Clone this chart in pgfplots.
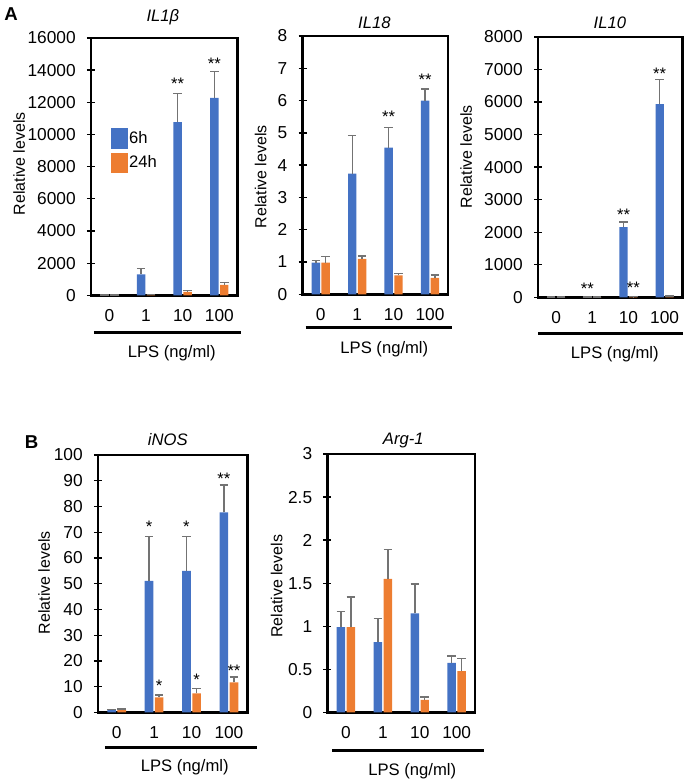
\documentclass[border=0pt]{standalone}
\usepackage{fontspec}
\setmainfont{Liberation Sans}
\usepackage{pgfplots}
\pgfplotsset{compat=1.18}

\definecolor{c6}{HTML}{4472C4}
\definecolor{c24}{HTML}{ED7D31}
\definecolor{errgray}{RGB}{115,115,115}
\newcommand\fs{\fontsize{12.5}{14}\selectfont}
\newcommand\tfs{\fontsize{13}{15}\selectfont}

\tikzset{st/.style={font=\fs, inner sep=0pt, anchor=center, yshift=-2.75pt}}

\pgfplotsset{
  panel/.style={
    anchor=north west, scale only axis,
    ybar, bar width=0.23,
    xmin=-0.5, xmax=3.5, xtick={0,1,2,3}, xticklabels={0,1,10,100},
    ymin=0,
    axis line style={line width=1.9pt},
    ytick pos=left,
    tick align=center,
    major tick length=6pt,
    x tick style={draw=none},
    y tick style={line width=1pt, black},
    tick label style={font=\tfs},
    yticklabel style={/pgf/number format/assume math mode=true, /pgf/number format/1000 sep={}},
    xticklabel style={/pgf/number format/assume math mode=true},
    xticklabel shift=4pt,
    yticklabel shift=5pt,
    scaled y ticks=false,
    clip=false,
  },
  eb/.style={error bars/.cd, y dir=plus, y explicit,
    error bar style={line width=1.1pt, errgray},
    error mark options={rotate=90, mark size=3.2pt, line width=1.1pt, errgray}},
  b6/.style={fill=c6, draw=none, bar shift=-0.135, eb},
  b24/.style={fill=c24, draw=none, bar shift=0.135, eb},
}

\begin{document}
\begin{tikzpicture}
\begin{scope}[x=0.75pt, y=-0.75pt]
\useasboundingbox (0,0) rectangle (685,783);
\end{scope}

% ---------- A: IL1b
\begin{axis}[panel, at={(66pt,-28.5pt)}, width=110.25pt, height=193.5pt,
  ymax=16000, ytick distance=2000,
  legend style={at={(0.136,0.651)}, anchor=north west, draw=none, fill=none,
    inner sep=0pt, font=\fs, row sep=3pt,
    nodes={inner sep=1pt}},
  legend cell align=left]
\addlegendimage{legend image code/.code={\fill[c6] (0pt,-7.5pt) rectangle (12pt,7.5pt);}}
\addlegendentry{6h}
\addlegendimage{legend image code/.code={\fill[c24] (0pt,-7.5pt) rectangle (12pt,7.5pt);}}
\addlegendentry{24h}
\addplot[b6] coordinates {(0,15) +- (0,5) (1,1300) +- (0,380) (2,10770) +- (0,1780) (3,12280) +- (0,1620)};
\addplot[b24] coordinates {(0,10) +- (0,5) (1,50) +- (0,20) (2,210) +- (0,90) (3,650) +- (0,150)};
\node[st] at (axis cs:1.865,13395) {**};
\node[st] at (axis cs:2.865,14636) {**};
\end{axis}

% ---------- A: IL18
\begin{axis}[panel, at={(225pt,-27pt)}, width=109.5pt, height=194.25pt,
  ymax=8, ytick distance=1]
\addplot[b6] coordinates {(0,0.98) +- (0,0.07) (1,3.74) +- (0,1.17) (2,4.54) +- (0,0.63) (3,6.0) +- (0,0.36)};
\addplot[b24] coordinates {(0,0.98) +- (0,0.19) (1,1.10) +- (0,0.09) (2,0.59) +- (0,0.06) (3,0.51) +- (0,0.09)};
\node[st] at (axis cs:1.865,5.62) {**};
\node[st] at (axis cs:2.865,6.76) {**};
\end{axis}

% ---------- A: IL10
\begin{axis}[panel, at={(402pt,-27.75pt)}, width=108.75pt, height=195.75pt,
  ymax=8000, ytick distance=1000]
\addplot[b6] coordinates {(0,5) +- (0,2) (1,12) +- (0,4) (2,2155) +- (0,165) (3,5935) +- (0,755)};
\addplot[b24] coordinates {(0,4) +- (0,2) (1,10) +- (0,3) (2,20) +- (0,5) (3,35) +- (0,8)};
\node[st] at (axis cs:0.865,368) {**};
\node[st] at (axis cs:1.865,2636) {**};
\node[st] at (axis cs:2.135,398) {**};
\node[st] at (axis cs:2.865,6988) {**};
\end{axis}

% ---------- B: iNOS
\begin{axis}[panel, at={(71.25pt,-342pt)}, width=112.5pt, height=193.5pt,
  ymax=100, ytick distance=10]
\addplot[b6] coordinates {(0,1.0) +- (0,0.2) (1,51.1) +- (0,17.2) (2,55.0) +- (0,13.3) (3,77.7) +- (0,10.6)};
\addplot[b24] coordinates {(0,1.0) +- (0,0.3) (1,5.9) +- (0,0.8) (2,7.4) +- (0,1.8) (3,11.7) +- (0,2.1)};
\node[st] at (axis cs:0.865,73.6) {*};
\node[st] at (axis cs:1.135,11.6) {*};
\node[st] at (axis cs:1.865,73.6) {*};
\node[st] at (axis cs:2.135,14.3) {*};
\node[st] at (axis cs:2.865,92.2) {**};
\node[st] at (axis cs:3.135,17.8) {**};
\end{axis}

% ---------- B: Arg-1
\begin{axis}[panel, at={(243.75pt,-341.25pt)}, width=111pt, height=194.25pt,
  ymax=3, ytick distance=0.5]
\addplot[b6] coordinates {(0,0.99) +- (0,0.18) (1,0.816) +- (0,0.274) (2,1.15) +- (0,0.34) (3,0.576) +- (0,0.081)};
\addplot[b24] coordinates {(0,0.99) +- (0,0.35) (1,1.55) +- (0,0.34) (2,0.147) +- (0,0.033) (3,0.479) +- (0,0.147)};
\end{axis}

% titles, labels, LPS bars
\begin{scope}[x=0.75pt, y=-0.75pt, font=\fs]
\node[font=\fs\itshape] at (160,17) {IL1β};
\node[font=\fs\itshape] at (372,23) {IL18};
\node[font=\fs\itshape] at (608,23) {IL10};
\node[font=\fs\itshape] at (165,441) {iNOS};
\node[font=\fs\itshape] at (401,441) {Arg-1};
\node[font=\fontsize{14}{16}\selectfont\bfseries] at (8,14) {A};
\node[font=\fontsize{14}{16}\selectfont\bfseries] at (28.5,443.5) {B};
\foreach \x/\y in {16/164, 258/177, 464/157, 41/584, 274/587.5}
  \node[rotate=90, font=\fontsize{12}{14}\selectfont] at (\x,\y) {Relative levels};
\draw[line width=2.3pt] (91,333) -- (238,333);
\draw[line width=2.3pt] (303,328) -- (450,328);
\draw[line width=2.3pt] (536,334) -- (681,334);
\draw[line width=2.3pt] (102,749) -- (254,749);
\draw[line width=2.3pt] (330,752) -- (482,752);
\node at (169,354) {LPS (ng/ml)};
\node at (382,350) {LPS (ng/ml)};
\node at (613,355) {LPS (ng/ml)};
\node at (182,769) {LPS (ng/ml)};
\node at (410,772.5) {LPS (ng/ml)};
\end{scope}
\end{tikzpicture}
\end{document}
